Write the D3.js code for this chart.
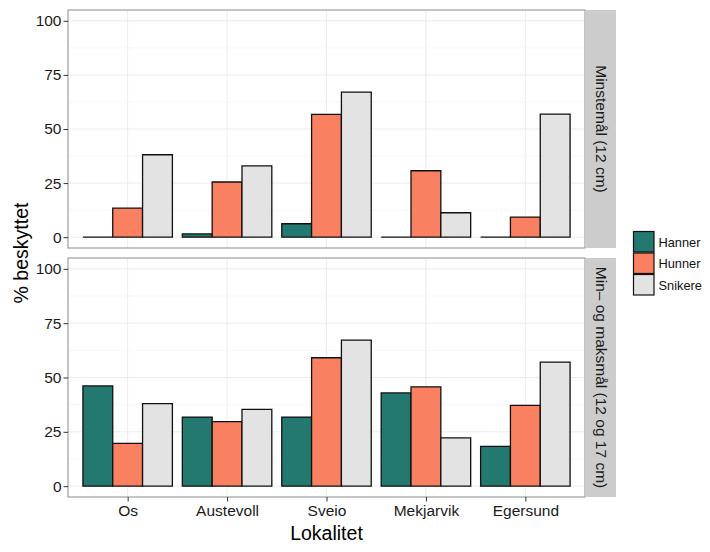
<!DOCTYPE html>
<html><head><meta charset="utf-8">
<script src="https://cdn.jsdelivr.net/npm/d3@7/dist/d3.min.js"></script>
<style>body{margin:0;background:#fff}svg{display:block;font-family:"Liberation Sans",Arial,sans-serif}</style>
</head><body><div id="chart"></div>
<script>
const categories = ["Os","Austevoll","Sveio","Mekjarvik","Egersund"];
const seriesNames = ["Hanner","Hunner","Snikere"];
const panels = ["Minstemål (12 cm)","Min– og maksmål (12 og 17 cm)"];
const yTicks = [0,25,50,75,100];
// panel 1: Minstemål
const minHanner = [0, 1.5, 6.2, 0, 0];
const minHunner = [13.4, 25.5, 56.8, 30.7, 9.3];
const minSnikere = [38.1, 33.0, 67.0, 11.3, 56.9];
// panel 2: Min- og maksmål
const maxHanner = [46.1, 31.8, 31.8, 42.9, 18.3];
const maxHunner = [19.7, 29.7, 59.1, 45.7, 37.2];
const maxSnikere = [38.0, 35.3, 67.2, 22.2, 57.1];
const colors = ["#23796f","#f98060","#e3e3e3"];

const panelData = [[minHanner,minHunner,minSnikere],[maxHanner,maxHunner,maxSnikere]];

const W=710,H=552;
const svg=d3.select("#chart").append("svg").attr("width",W).attr("height",H);
const left=68,right=585,stripW=31;
const panelBoxes=[{top:10,bottom:248},{top:258,bottom:497}];
const tickFont=15.5, titleFont=19.5, legendFont=12.8;

const x=d3.scaleLinear().domain([0.4,5.6]).range([left,right]);
const color=d3.scaleOrdinal().domain(seriesNames).range(colors);
const bandW=0.9, barW=bandW/3;

panelBoxes.forEach((pb,pi)=>{
  const y=d3.scaleLinear().domain([-5,105]).range([pb.bottom,pb.top]);
  const g=svg.append("g");
  g.append("rect").attr("x",left).attr("y",pb.top).attr("width",right-left).attr("height",pb.bottom-pb.top).attr("fill","#fff");
  [12.5,37.5,62.5,87.5].forEach(v=>{
    g.append("line").attr("x1",left).attr("x2",right).attr("y1",y(v)).attr("y2",y(v)).attr("stroke","#f4f4f4").attr("stroke-width",0.8);
  });
  yTicks.forEach(v=>{
    g.append("line").attr("x1",left).attr("x2",right).attr("y1",y(v)).attr("y2",y(v)).attr("stroke","#e6e6e6").attr("stroke-width",0.8);
  });
  categories.forEach((c,i)=>{
    g.append("line").attr("x1",x(i+1)).attr("x2",x(i+1)).attr("y1",pb.top).attr("y2",pb.bottom).attr("stroke","#e6e6e6").attr("stroke-width",0.8);
  });
  panelData[pi].forEach((vals,si)=>{
    g.selectAll(null).data(vals).enter().append("path")
      .attr("d",(d,i)=>{
        const x0=x(i+1-bandW/2+si*barW), w=x(1+barW)-x(1), y0=y(0), y1=y(d);
        return `M${x0},${y0}V${y1}H${x0+w}V${y0}Z`;
      })
      .attr("fill",color(seriesNames[si]))
      .attr("stroke","#111").attr("stroke-width",1.3).attr("stroke-linejoin","miter");
  });
  g.append("rect").attr("x",left).attr("y",pb.top).attr("width",right-left).attr("height",pb.bottom-pb.top).attr("fill","none").attr("stroke","#8a8a8a").attr("stroke-width",1);
  const ya=d3.axisLeft(y).tickValues(yTicks).tickSize(4.5).tickPadding(2);
  const ag=svg.append("g").attr("transform",`translate(${left},0)`).call(ya);
  ag.select(".domain").remove();
  ag.selectAll(".tick line").attr("stroke","#333");
  ag.selectAll("text").attr("font-size",tickFont).attr("fill","#1a1a1a").attr("font-family","Liberation Sans, Arial, sans-serif");
  svg.append("rect").attr("x",right).attr("y",pb.top).attr("width",stripW).attr("height",pb.bottom-pb.top).attr("fill","#cccccc");
  svg.append("text").attr("transform",`translate(${right+stripW/2+1},${(pb.top+pb.bottom)/2}) rotate(90)`)
    .attr("text-anchor","middle").attr("dominant-baseline","central").attr("font-size",tickFont).attr("fill","#1a1a1a").text(panels[pi]);
});

const xa=d3.axisBottom(x).tickValues([1,2,3,4,5]).tickFormat(d=>categories[d-1]).tickSize(4.5).tickPadding(3);
const xg=svg.append("g").attr("transform",`translate(0,${panelBoxes[1].bottom})`).call(xa);
xg.select(".domain").remove();
xg.selectAll(".tick line").attr("stroke","#333");
xg.selectAll("text").attr("font-size",tickFont).attr("fill","#1a1a1a").attr("font-family","Liberation Sans, Arial, sans-serif");

svg.append("text").attr("x",(left+right)/2).attr("y",540).attr("text-anchor","middle").attr("font-size",titleFont).attr("fill","#000").text("Lokalitet");
svg.append("text").attr("transform",`translate(28,253) rotate(-90)`).attr("text-anchor","middle").attr("font-size",titleFont).attr("fill","#000").text("% beskyttet");

const lg=svg.append("g").attr("transform","translate(633,231)");
seriesNames.forEach((s,i)=>{
  lg.append("rect").attr("x",0.5).attr("y",i*21.5+0.5).attr("width",20.5).attr("height",20.5).attr("fill",color(s)).attr("stroke","#111").attr("stroke-width",1.2);
  lg.append("text").attr("x",25.5).attr("y",i*21.5+11).attr("dominant-baseline","central").attr("font-size",legendFont).attr("fill","#111").text(s);
});
</script></body></html>
